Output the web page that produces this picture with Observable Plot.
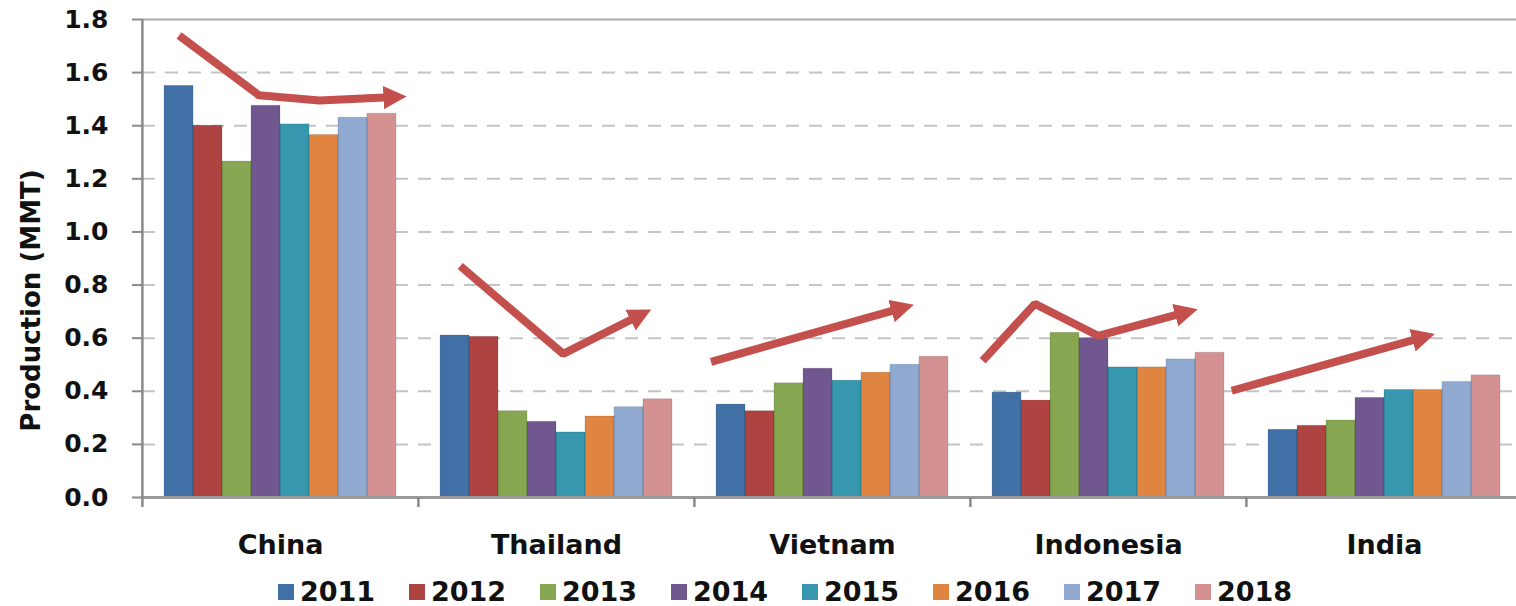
<!DOCTYPE html>
<html>
<head>
<meta charset="utf-8">
<script src="https://cdn.jsdelivr.net/npm/d3@7"></script>
<script src="https://cdn.jsdelivr.net/npm/@observablehq/plot@0.6"></script>
<style>
  html, body { margin: 0; padding: 0; background: #fff; overflow: hidden; }
  body { width: 1516px; height: 606px; font-family: "DejaVu Sans", sans-serif; }
  #legend { display: flex; align-items: center; height: 40px; padding-left: 278px; padding-top: 6px; box-sizing: content-box; }
  .item { display: flex; align-items: center; width: 131px; }
  .sw { width: 16px; height: 16px; margin-right: 6px; }
  .lab { font-size: 27px; font-weight: bold; color: #111; line-height: 40px; }
</style>
</head>
<body>
<div id="chart"></div>
<div id="legend"></div>
<script>
// ---- data ----
const countries = ["China", "Thailand", "Vietnam", "Indonesia", "India"];
const years = [2011, 2012, 2013, 2014, 2015, 2016, 2017, 2018];
const china     = [1.55, 1.40, 1.265, 1.475, 1.405, 1.365, 1.43, 1.445];
const thailand  = [0.61, 0.605, 0.325, 0.285, 0.245, 0.305, 0.34, 0.37];
const vietnam   = [0.35, 0.325, 0.43, 0.485, 0.44, 0.47, 0.50, 0.53];
const indonesia = [0.395, 0.365, 0.62, 0.60, 0.49, 0.49, 0.52, 0.545];
const india     = [0.255, 0.27, 0.29, 0.375, 0.405, 0.405, 0.435, 0.46];
const yTicks = [0, 0.2, 0.4, 0.6, 0.8, 1.0, 1.2, 1.4, 1.6, 1.8];
const yLabel = "Production (MMT)";
const colors = ["#4170A6", "#AE4341", "#87A651", "#71578F", "#3697AF", "#DF8441", "#8FA9D0", "#D49192"];

// hand-drawn trend arrows (year position, value) per country
const arrowChina     = [[2011.0, 1.74], [2013.75, 1.515], [2015.85, 1.495], [2018.45, 1.508]];
const arrowThailand  = [[2011.18, 0.872], [2014.73, 0.541], [2017.41, 0.688]];
const arrowVietnam   = [[2010.31, 0.511], [2016.92, 0.714]];
const arrowIndonesia = [[2010.16, 0.515], [2011.96, 0.729], [2014.14, 0.609], [2017.19, 0.698]];
const arrowIndia     = [[2009.23, 0.402], [2015.85, 0.604]];

const seriesByCountry = [china, thailand, vietnam, indonesia, india];
const arrowsByCountry = [arrowChina, arrowThailand, arrowVietnam, arrowIndonesia, arrowIndia];

const bars = countries.flatMap((c, i) =>
  years.map((y, j) => ({country: c, year: y, value: seriesByCountry[i][j]})));
const arrows = countries.flatMap((c, i) =>
  arrowsByCountry[i].map(([yr, v]) => ({country: c, year: yr, value: v})));

// ---- layout ----
const W = 1516, H = 566;
const mL = 141, mR = -6, mT = 19, mB = 69;
const facetStep = (W - mL - mR) / countries.length;
const pad = 0.76;
const xDomain = [d3.min(years) - 0.5 - pad, d3.max(years) + 0.5 + pad];

function arrowHead(color) {
  const m = d3.create("svg:marker")
    .attr("viewBox", "-5 -5 10 10")
    .attr("markerWidth", 2.9).attr("markerHeight", 2.9)
    .attr("orient", "auto")
    .attr("fill", color).attr("stroke", "none");
  m.append("path").attr("d", "M-5,-5L5,0L-5,5Z");
  return m.node();
}

const plot = Plot.plot({
  width: W, height: H,
  marginLeft: mL, marginRight: mR, marginTop: mT, marginBottom: mB,
  style: {fontFamily: "DejaVu Sans, sans-serif", overflow: "visible", background: "transparent"},
  fx: {domain: countries, paddingInner: 0, paddingOuter: 0},
  x: {domain: xDomain, axis: null},
  y: {domain: [0, 1.8]},
  color: {domain: years.map(String), range: colors},
  marks: [
    Plot.gridY(yTicks.slice(1, -1), {stroke: "#c4c4c4", strokeOpacity: 1, strokeWidth: 2, strokeDasharray: "13,10"}),
    Plot.ruleY([1.8], {stroke: "#a9a9a9", strokeWidth: 2}),
    Plot.rect(bars, {fx: "country", x1: d => d.year - 0.5, x2: d => d.year + 0.5, y1: () => 0, y2: "value", fill: d => String(d.year)}),
    Plot.rect(bars, {fx: "country", x1: d => d.year - 0.5, x2: d => d.year + 0.5, y1: () => 0, y2: "value", fill: "none", stroke: "#000", strokeOpacity: 0.12, strokeWidth: 1}),
    Plot.ruleY([0], {stroke: "#9a9a9a", strokeWidth: 3}),
    Plot.axisY(yTicks, {
      tickSize: 10, tickPadding: 24, tickFormat: d3.format(".1f"), label: null,
      stroke: "#8a8a8a", strokeWidth: 2, fill: "#111", fontSize: 25, fontWeight: "bold"
    }),
    Plot.ruleX([countries[0]], {fx: d => d, x: null, dx: -facetStep / 2, stroke: "#8a8a8a", strokeWidth: 2.5}),
    Plot.axisFx({anchor: "bottom", tickSize: 0, tickPadding: 37, label: null, fill: "#111", fontSize: 27, fontWeight: "bold"}),
    Plot.axisFx({anchor: "bottom", tickSize: 10, dx: -facetStep / 2, tickFormat: () => "", label: null, stroke: "#8a8a8a", strokeWidth: 2.5}),
    Plot.text([{country: countries[0], label: yLabel}], {
      fx: "country", text: "label", frameAnchor: "left", textAnchor: "middle", rotate: -90,
      dx: -111, dy: 42, fontSize: 26, fontWeight: "bold", fill: "#111"
    }),
    Plot.line(arrows, {
      fx: "country", x: "year", y: "value", z: "country",
      stroke: "#C3504C", strokeWidth: 8, strokeLinejoin: "miter", strokeLinecap: "butt",
      markerEnd: arrowHead
    })
  ]
});
document.getElementById("chart").appendChild(plot);

// legend
const legend = d3.select("#legend");
years.forEach((y, i) => {
  const it = legend.append("div").attr("class", "item");
  it.append("div").attr("class", "sw").style("background", colors[i]);
  it.append("span").attr("class", "lab").text(y);
});
</script>
</body>
</html>
